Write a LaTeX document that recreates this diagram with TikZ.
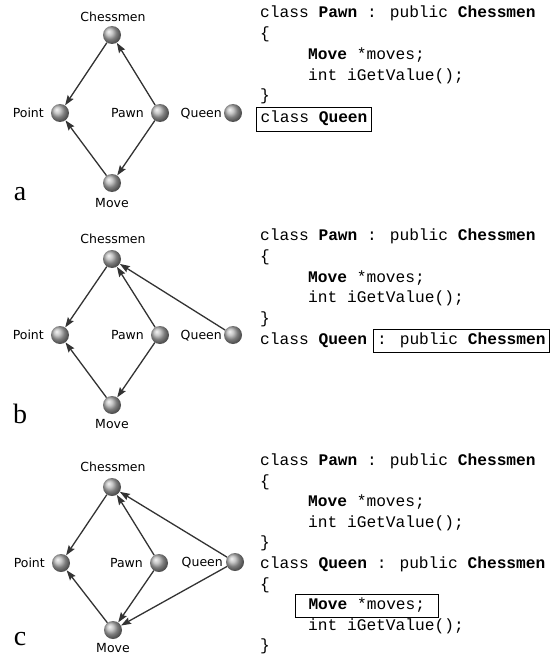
\documentclass[tikz,border=0pt]{standalone}
\usepackage{fontspec}
\setmainfont{Liberation Serif}
\newfontfamily\labfont{DejaVu Sans}
\newfontfamily\codefont{Liberation Mono}
\usetikzlibrary{arrows.meta,shadings}
\definecolor{linec}{HTML}{333333}
\tikzset{
  ballnode/.style={circle, minimum size=18bp, inner sep=0pt, shade, ball color=gray!60},
  lab/.style={font=\labfont\fontsize{12.5bp}{14bp}\selectfont, inner sep=0pt, text=black, text height=9bp, text depth=0bp},
  arr/.style={draw=linec, line width=1.3bp, -{Stealth[length=10bp,width=7bp,inset=1.5bp]}},
  code/.style={font=\codefont\fontsize{16.2bp}{20bp}\selectfont, inner sep=0pt, anchor=base west},
  codebox/.style={code, draw, line width=1bp, inner xsep=4bp, inner ysep=3.5bp, text height=11.5bp, text depth=4.5bp},
  panel/.style={font=\fontsize{28bp}{30bp}\selectfont, inner sep=0pt, anchor=base}
}
\begin{document}
\begin{tikzpicture}[x=1bp, y=-1bp]
\useasboundingbox[fill=white] (0,0) rectangle (552,658);

% ---------------- Panel a ----------------
\node[ballnode] (a-ch) at (112,35) {};
\node[ballnode] (a-pt) at (60,113) {};
\node[ballnode] (a-pw) at (160,113) {};
\node[ballnode] (a-qn) at (233,113) {};
\node[ballnode] (a-mv) at (112,183) {};
\node[lab] (a-chl) at (113,17) {Chessmen};
\node[lab, anchor=east] (a-ptl) at (44,113) {Point};
\node[lab, anchor=east] (a-pwl) at (144,113) {Pawn};
\node[lab, anchor=east] (a-qnl) at (222,113) {Queen};
\node[lab] (a-mvl) at (112,203) {Move};
\draw[arr] (a-ch) -- (a-pt);
\draw[arr] (a-pw) -- (a-ch);
\draw[arr] (a-pw) -- (a-mv);
\draw[arr] (a-mv) -- (a-pt);
\node[panel] (a-tag) at (20,200) {a};

\node[code] (a-c1) at (260,18) {class \textbf{Pawn} : public \textbf{Chessmen}};
\node[code] (a-c2) at (260,39) {\{};
\node[code] (a-c3) at (308,60) {\textbf{Move} *moves;};
\node[code] (a-c4) at (308,81) {int iGetValue();};
\node[code] (a-c5) at (260,101) {\}};
\node[codebox] (a-c6) at (256,123) {class \textbf{Queen}};

% ---------------- Panel b ----------------
\node[ballnode] (b-ch) at (112,259) {};
\node[ballnode] (b-pt) at (60,335) {};
\node[ballnode] (b-pw) at (160,335) {};
\node[ballnode] (b-qn) at (233,335) {};
\node[ballnode] (b-mv) at (112,405) {};
\node[lab] (b-chl) at (113,239) {Chessmen};
\node[lab, anchor=east] (b-ptl) at (44,335) {Point};
\node[lab, anchor=east] (b-pwl) at (144,335) {Pawn};
\node[lab, anchor=east] (b-qnl) at (222,335) {Queen};
\node[lab] (b-mvl) at (112,424) {Move};
\draw[arr] (b-ch) -- (b-pt);
\draw[arr] (b-pw) -- (b-ch);
\draw[arr] (b-qn) -- (b-ch);
\draw[arr] (b-pw) -- (b-mv);
\draw[arr] (b-mv) -- (b-pt);
\node[panel] (b-tag) at (20,423) {b};

\node[code] (b-c1) at (260,240) {class \textbf{Pawn} : public \textbf{Chessmen}};
\node[code] (b-c2) at (260,261) {\{};
\node[code] (b-c3) at (308,282) {\textbf{Move} *moves;};
\node[code] (b-c4) at (308,302) {int iGetValue();};
\node[code] (b-c5) at (260,323) {\}};
\node[code] (b-c6) at (260,344) {class \textbf{Queen}};
\node[codebox] (b-c7) at (372.6,344) {: public \textbf{Chessmen}};

% ---------------- Panel c ----------------
\node[ballnode] (c-ch) at (112,487) {};
\node[ballnode] (c-pt) at (61,563) {};
\node[ballnode] (c-pw) at (159,563) {};
\node[ballnode] (c-qn) at (235,562) {};
\node[ballnode] (c-mv) at (113,630) {};
\node[lab] (c-chl) at (113,467) {Chessmen};
\node[lab, anchor=east] (c-ptl) at (45,563) {Point};
\node[lab, anchor=east] (c-pwl) at (143,563) {Pawn};
\node[lab, anchor=east] (c-qnl) at (223,562) {Queen};
\node[lab] (c-mvl) at (113,648) {Move};
\draw[arr] (c-ch) -- (c-pt);
\draw[arr] (c-pw) -- (c-ch);
\draw[arr] (c-qn) -- (c-ch);
\draw[arr] (c-pw) -- (c-mv);
\draw[arr] (c-qn) -- (c-mv);
\draw[arr] (c-mv) -- (c-pt);
\node[panel] (c-tag) at (20,645) {c};

\node[code] (c-c1) at (260,465) {class \textbf{Pawn} : public \textbf{Chessmen}};
\node[code] (c-c2) at (260,486) {\{};
\node[code] (c-c3) at (308,506) {\textbf{Move} *moves;};
\node[code] (c-c4) at (308,527) {int iGetValue();};
\node[code] (c-c5) at (260,547) {\}};
\node[code] (c-c6) at (260,568) {class \textbf{Queen} : public \textbf{Chessmen}};
\node[code] (c-c7) at (260,589) {\{};
\node[codebox, inner xsep=13bp] (c-c8) at (295,609) {\textbf{Move} *moves;};
\node[code] (c-c9) at (308,630) {int iGetValue();};
\node[code] (c-c10) at (260,650) {\}};
\end{tikzpicture}
\end{document}
